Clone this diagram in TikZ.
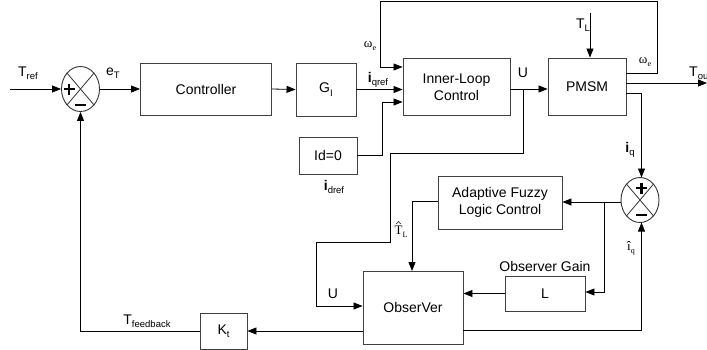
\documentclass[tikz,border=0pt]{standalone}
\usepackage{fontspec}
\setmainfont{Liberation Sans}
\newfontfamily\serifnt{Liberation Serif}
\usetikzlibrary{arrows.meta,shapes.geometric}
\newcommand{\lsub}[1]{\raisebox{-0.45ex}{\fontsize{9.5}{9.5}\selectfont #1}}
\newcommand{\ssub}[1]{\raisebox{-0.5ex}{\fontsize{8}{8}\selectfont #1}}
\tikzset{
  blk/.style={draw=black!75, line width=0.9pt, inner sep=0pt, align=center,
              font=\fontsize{14}{17}\selectfont},
  sumnode/.style={ellipse, draw=black!80, line width=0.9pt, minimum width=38pt,
                  minimum height=45pt, inner sep=0pt},
  arr/.style={-{Triangle[length=9pt,width=7pt]}, line width=0.8pt},
  ln/.style={line width=0.8pt},
  lbl/.style={font=\fontsize{14}{14}\selectfont, inner sep=0pt},
  slbl/.style={font=\fontsize{13}{13}\selectfont\serifnt, inner sep=0pt},
  sgn/.style={line width=2.3pt}
}
\begin{document}
\begin{tikzpicture}[x=1pt,y=-1pt]
\useasboundingbox (0,0) rectangle (707,349);
% blocks
\node[blk, minimum width=131pt, minimum height=52pt] (ctrl) at (206,89) {Controller};
\node[blk, minimum width=60pt, minimum height=53pt] (gi) at (326,89.5) {G\lsub{I}};
\node[blk, minimum width=58pt, minimum height=37pt] (id) at (328,155.5) {Id=0};
\node[blk, minimum width=107pt, minimum height=57pt] (inner) at (456.5,87) {Inner-Loop\\Control};
\node[blk, minimum width=78pt, minimum height=57pt] (pmsm) at (587,86.5) {PMSM};
\node[blk, minimum width=124pt, minimum height=53pt] (aflc) at (500,202.5) {Adaptive Fuzzy\\Logic Control};
\node[blk, minimum width=80pt, minimum height=35pt] (lg) at (545,293.5) {L};
\node[blk, minimum width=100pt, minimum height=73pt] (obs) at (413,307.5) {ObserVer};
\node[blk, minimum width=47pt, minimum height=36pt] (kt) at (223.5,331) {K\lsub{t}};
% summing junctions
\node[sumnode] (s1) at (80.5,89) {};
\node[sumnode] (s2) at (640,200) {};
\foreach \s in {s1,s2}{
  \draw[ln, black!80] (\s.north west) -- (\s.south east);
  \draw[ln, black!80] (\s.north east) -- (\s.south west);
}
\draw[sgn] (64,89.3) -- (74.5,89.3) (69.3,84) -- (69.3,94.6);
\draw[sgn] (75,105) -- (85.5,105);
\draw[sgn] (636,188) -- (647,188) (641.5,182.5) -- (641.5,193.5);
\draw[sgn] (636,215) -- (647,215);
% free ends
\coordinate (tin) at (10,89);
\coordinate (tl) at (590,13);
\coordinate (tout) at (707,83);
% connectors
\draw[arr] (tin) -- (s1.west);
\draw[arr] (s1.east) -- (ctrl.west);
\draw[arr] (ctrl.east) -- (gi.west);
\draw[arr] (gi.east) -- (gi.east -| inner.west);
\draw[arr] (id.east) -- (382,155.5) -- (382,102) -- (inner.west |- 0,102);
\draw[arr] (pmsm.east |- 0,73) -- (657,73) -- (657,1.5) -- (380,1.5) -- (380,67) -- (inner.west |- 0,67);
\draw[arr] (inner.east |- 0,89) -- (pmsm.west |- 0,89);
\draw[arr] (523,89) -- (523,153) -- (390,153) -- (390,242) -- (316,242) -- (316,306) -- (obs.west |- 0,306);
\draw[arr] (tl) -- (tl |- pmsm.north);
\draw[arr] (pmsm.east |- 0,83) -- (tout);
\draw[arr] (pmsm.east |- 0,93) -- (641.5,93) -- (641.5,177.5);
\draw[arr] (s2.west |- 0,202) -- (aflc.east |- 0,202);
\draw[arr] (604,202) -- (604,292) -- (lg.east |- 0,292);
\draw[arr] (aflc.west |- 0,201) -- (412,201) -- (412,271);
\draw[arr] (lg.west) -- (obs.east |- lg.west);
\draw[arr] (obs.east |- 0,330) -- (641.5,330) -- (641.5,222.5);
\draw[arr] (obs.west |- 0,331) -- (kt.east);
\draw[arr] (kt.west) -- (80.5,331) -- (s1.south);
% labels
\node[lbl] (lref) at (28,73) {T\lsub{ref}};
\node[lbl] (let) at (113,73) {e\lsub{T}};
\node[lbl] (liq) at (378,80) {\textbf{i}\lsub{qref}};
\node[lbl] (lid) at (334,187) {\textbf{i}\lsub{dref}};
\node[slbl] (lw1) at (370,46) {ω\ssub{e}};
\node[slbl] (lw2) at (645,62) {ω\ssub{e}};
\node[lbl] (lu1) at (523,73) {U};
\node[lbl] (lu2) at (333,294) {U};
\node[lbl] (ltl) at (583,25) {T\lsub{L}};
\node[lbl, anchor=west] (lto) at (689,73) {T\lsub{out}};
\node[lbl] (liqq) at (630,150) {\textbf{i}\lsub{q}};
\node[slbl] (lth) at (401,232) {T\ssub{L}};
\draw[line width=0.5pt] (396.3,224) -- (398.5,221.5) -- (400.7,224);
\node[slbl] (lih) at (631,248) {î\ssub{q}};
\node[lbl] (lfb) at (147,321) {T\lsub{feedback}};
\node[lbl] (log) at (545,266) {Observer Gain};
\end{tikzpicture}
\end{document}
